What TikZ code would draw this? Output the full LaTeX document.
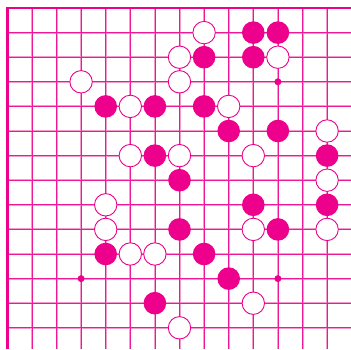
\documentclass[tikz,border=0pt]{standalone}
\definecolor{mag}{RGB}{236,0,140}
\tikzset{
  gridwide/.style={draw=mag!40, line width=2pt},
  gridline/.style={draw=mag!90, line width=0.7pt},
  border/.style={draw=mag, line width=2.6pt, line join=miter},
  bst/.style={circle, fill=mag, inner sep=0pt, minimum size=22.6pt},
  wst/.style={circle, fill=white, draw=mag, line width=0.9pt, inner sep=0pt, minimum size=22.4pt},
  hoshi/.style={circle, fill=mag, inner sep=0pt, minimum size=7pt}
}
\begin{document}
\begin{tikzpicture}
\useasboundingbox (0,0) rectangle (351pt,-349pt);
\begin{scope}[shift={(7.3pt,-8pt)}, x=24.6pt, y=-24.6pt]
\foreach \k in {1,...,13} {
  \draw[gridwide] (\k,0) -- (\k,13.87);
  \draw[gridwide] (0,\k) -- (13.97,\k);
}
\foreach \k in {1,...,13} {
  \draw[gridline] (\k,0) -- (\k,13.87);
  \draw[gridline] (0,\k) -- (13.97,\k);
}
\draw[border] (0,13.87) -- (0,0) -- (13.97,0);
\foreach \c/\r [count=\i] in {11/3,3/11,11/11} {
  \node[hoshi] (h\i) at (\c,\r) {};
}
\foreach \c/\r [count=\i] in {10/1,11/1,8/2,10/2,4/4,6/4,8/4,9/5,11/5,6/6,13/6,7/7,10/8,13/8,7/9,11/9,4/10,8/10,9/11,6/12} {
  \node[bst] (b\i) at (\c,\r) {};
}
\foreach \c/\r [count=\i] in {8/1,7/2,11/2,3/3,7/3,5/4,9/4,13/5,5/6,7/6,10/6,13/7,4/8,4/9,10/9,13/9,5/10,6/10,10/12,7/13} {
  \node[wst] (w\i) at (\c,\r) {};
}
\end{scope}
\end{tikzpicture}
\end{document}
